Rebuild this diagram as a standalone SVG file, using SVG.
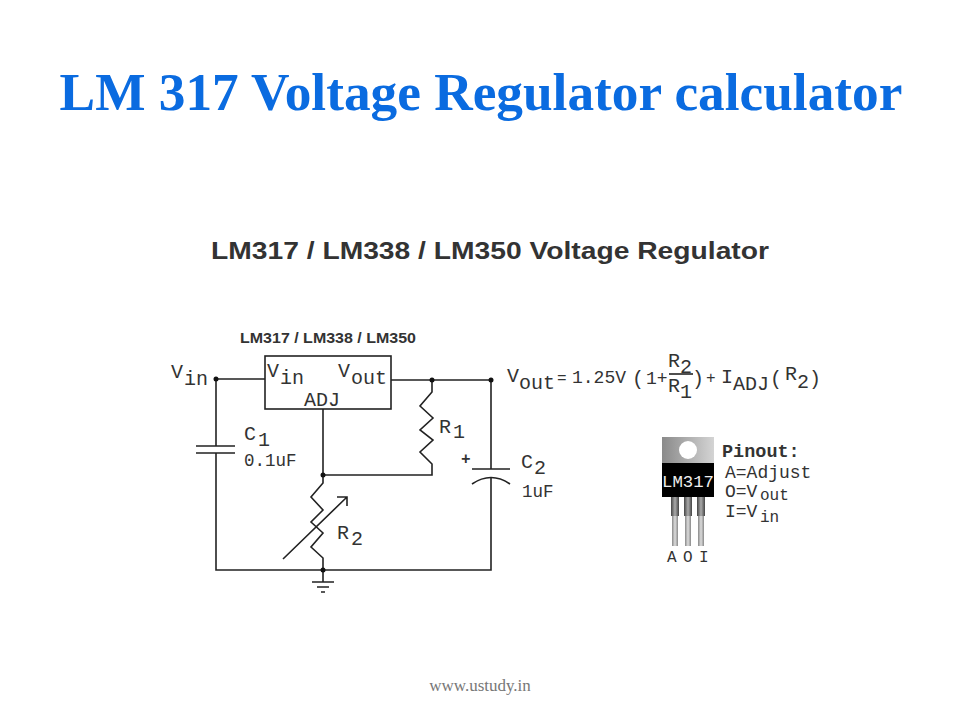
<svg xmlns="http://www.w3.org/2000/svg" width="960" height="720" viewBox="0 0 960 720">
<defs>
<linearGradient id="tab" x1="0" x2="1" y1="0" y2="0"><stop offset="0" stop-color="#8a8a8a"/><stop offset="1" stop-color="#d4d4d4"/></linearGradient>
<linearGradient id="pin" x1="0" x2="1" y1="0" y2="0"><stop offset="0" stop-color="#888"/><stop offset=".5" stop-color="#ddd"/><stop offset="1" stop-color="#888"/></linearGradient>
<linearGradient id="pintop" x1="0" x2="1" y1="0" y2="0"><stop offset="0" stop-color="#444"/><stop offset=".5" stop-color="#aaa"/><stop offset="1" stop-color="#444"/></linearGradient>
</defs>
<style>
.w{fill:none;stroke:#222;stroke-width:1.6}
.d{fill:#111}
.m{font-family:"Liberation Mono","DejaVu Sans Mono",monospace;fill:#333;font-size:20px}
.n{font-size:17.5px}
.p{font-size:18px}
.q{font-size:16px}
</style>
<rect width="960" height="720" fill="#fff"/>
<text x="481" y="110" text-anchor="middle" font-family="'Liberation Serif',serif" font-weight="bold" font-size="53.3" fill="#0a6be0">LM 317 Voltage Regulator calculator</text>
<text x="211" y="259" font-family="'Liberation Sans',sans-serif" font-weight="bold" font-size="23" fill="#333" textLength="558" lengthAdjust="spacingAndGlyphs">LM317 / LM338 / LM350 Voltage Regulator</text>
<text x="240" y="343" font-family="'Liberation Sans',sans-serif" font-weight="bold" font-size="14.500" fill="#333" textLength="176" lengthAdjust="spacingAndGlyphs">LM317 / LM338 / LM350</text>
<g id="connectors">
<path class="w" d="M216 379H265M391 380H491V469M491 477V570H216V453M216 379V446"/>
<path class="w" d="M323 409V475H432V464L420 452 433 440 420 430 433 418 420 406 432 392V380"/>
<path class="w" d="M323 475V483L311 497 323 510 311 522 323 533 311 547 323 558V582"/>
<path class="w" d="M283 559L347 497M337 497H347V506"/>
</g>
<g id="ic"><rect x="265" y="356" width="126" height="53" fill="#fff" stroke="#222" stroke-width="1.600"/>
<text class="m" x="267" y="377">V</text><text class="m" x="280" y="384">in</text>
<text class="m" x="338" y="377">V</text><text class="m" x="351" y="384">out</text>
<text class="m" x="304" y="406">ADJ</text></g>
<g id="vin"><circle class="d" cx="216" cy="379" r="2.500"/><text class="m" x="171" y="378">V</text><text class="m" x="184" y="385">in</text></g>
<g id="c1"><path class="w" d="M196 446H235M196 453H235"/><text class="m" x="244" y="440">C</text><text class="m" x="258" y="446">1</text><text class="m n" x="244" y="466">0.1uF</text></g>
<g id="r1"><circle class="d" cx="432" cy="380" r="2.500"/><text class="m" x="439" y="433">R</text><text class="m" x="453" y="438">1</text></g>
<g id="vout-node"><circle class="d" cx="491" cy="380" r="2.500"/></g>
<g id="adj-node"><circle class="d" cx="323" cy="475" r="2.500"/></g>
<g id="c2"><text class="m q" x="461" y="464" font-weight="bold">+</text><path class="w" d="M472 469H510M472 484Q491 471 510 484"/><text class="m" x="521" y="468">C</text><text class="m" x="534" y="474">2</text><text class="m n" x="522" y="497">1uF</text></g>
<g id="r2"><text class="m" x="337" y="539">R</text><text class="m" x="351" y="545">2</text></g>
<g id="ground"><circle class="d" cx="323" cy="570" r="2.500"/><path class="w" d="M312 582H334M317 587H329M321 592H325"/></g>
<g id="formula">
<text class="m" x="507" y="382">V</text><text class="m" x="519" y="389">out</text>
<text class="m q" x="557" y="383">=</text>
<text class="m p" x="572" y="383">1.25V</text>
<text class="m" x="632" y="385">(</text>
<text class="m p" x="646" y="384">1+</text>
<text class="m" x="668" y="367">R</text><text class="m" x="680" y="373">2</text>
<path class="w" d="M669 374H693"/>
<text class="m" x="668" y="392">R</text><text class="m" x="680" y="398">1</text>
<text class="m" x="692" y="385">)</text>
<text class="m q" x="706" y="383">+</text>
<text class="m" x="721" y="383">I</text><text class="m" x="733" y="390">ADJ</text>
<text class="m" x="770" y="385">(</text><text class="m" x="785" y="380">R</text><text class="m" x="797" y="388">2</text><text class="m" x="809" y="385">)</text>
</g>
<g id="package">
<rect x="662" y="437" width="52" height="27" fill="url(#tab)"/>
<circle cx="688" cy="450" r="9" fill="#fff"/>
<rect x="672" y="497" width="6" height="49" fill="url(#pin)"/><rect x="685" y="497" width="6" height="49" fill="url(#pin)"/><rect x="698" y="497" width="6" height="49" fill="url(#pin)"/>
<rect x="671" y="497" width="8" height="19" fill="url(#pintop)"/><rect x="684" y="497" width="8" height="19" fill="url(#pintop)"/><rect x="697" y="497" width="8" height="19" fill="url(#pintop)"/>
<rect x="662" y="463" width="52" height="34" fill="#000"/>
<text x="688" y="487" text-anchor="middle" font-family="'Liberation Mono',monospace" font-size="17.300" fill="#eee">LM317</text>
<text class="m q" x="667" y="562">A</text><text class="m q" x="683" y="562">O</text><text class="m q" x="699" y="562">I</text>
</g>
<g id="pinout">
<text class="m" x="722" y="457" style="font-size:18.500px;font-weight:bold" fill="#222">Pinout:</text>
<text class="m p" x="725" y="478">A=Adjust</text>
<text class="m p" x="725" y="497">O=V</text><text class="m q" x="760" y="500">out</text>
<text class="m p" x="725" y="517">I=V</text><text class="m q" x="760" y="522">in</text>
</g>
<text x="480" y="691" text-anchor="middle" font-family="'Liberation Serif',serif" font-size="17" fill="#777">www.ustudy.in</text>
</svg>
